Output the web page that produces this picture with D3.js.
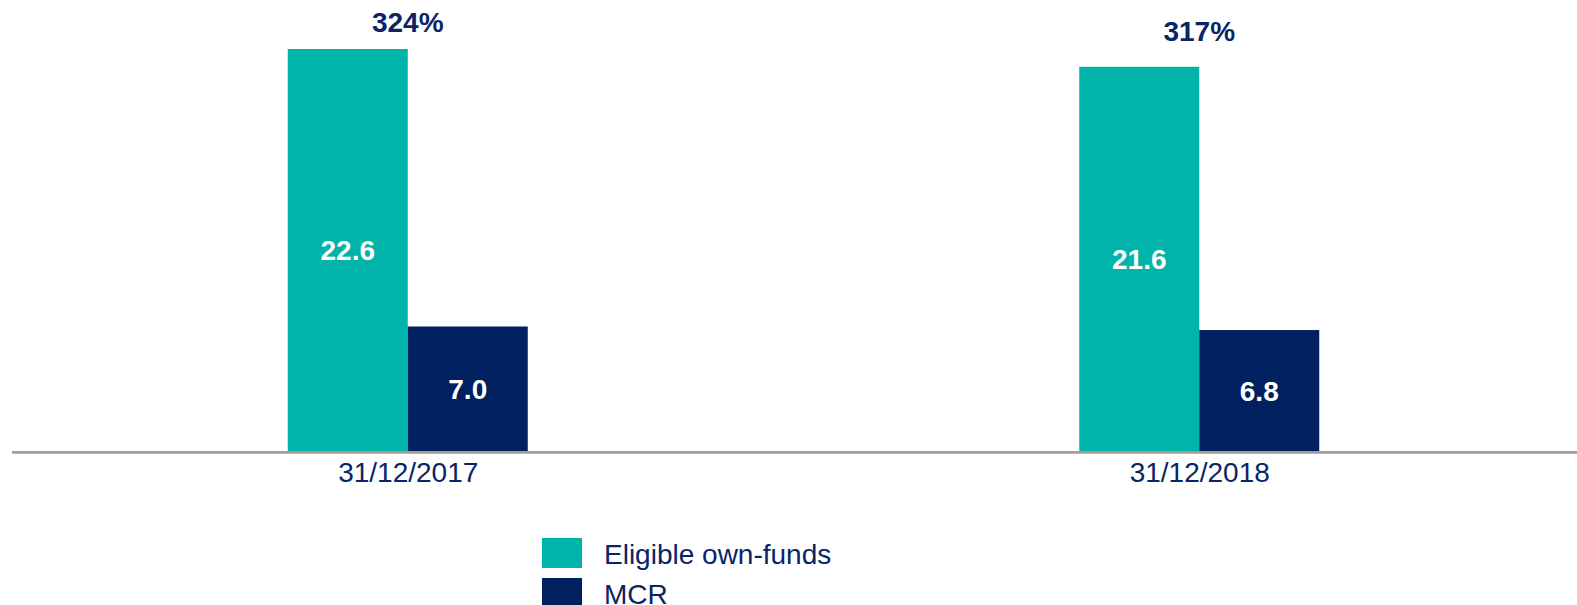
<!DOCTYPE html>
<html>
<head>
<meta charset="utf-8">
<script src="https://cdn.jsdelivr.net/npm/d3@7"></script>
<style>
  html, body { margin: 0; padding: 0; background: #ffffff; }
  svg { display: block; font-family: "Liberation Sans", Arial, Helvetica, sans-serif; }
</style>
</head>
<body>
<svg id="chart" width="1577" height="605"></svg>
<script>
// Solvency cover: eligible own-funds vs MCR (EUR bn) and coverage ratio
const categories = ["31/12/2017", "31/12/2018"];
const seriesNames = ["Eligible own-funds", "MCR"];
const ownFunds = [22.6, 21.6];
const mcr = [7.0, 6.8];
const coverageRatio = [324, 317];

const colors = { "Eligible own-funds": "#00B4AA", "MCR": "#002060" };
const textNavy = "#0A2466";

const W = 1577, H = 605;
const baseY = 451;
const svg = d3.select("#chart");

// Group positions along the category axis
const x = d3.scalePoint().domain(categories).range([12, 1595]).padding(0.5);
// Side-by-side bars within each group
const xSub = d3.scaleBand().domain(seriesNames).range([-120, 120]).padding(0);
// Value scale (primary)
const y = d3.scaleLinear().domain([0, d3.max(ownFunds)]).range([baseY, 49]);
// Coverage ratio scale (secondary)
const yRatio = d3.scaleLinear().domain([0, 380]).range([baseY, 0]);

const rows = categories.map((c, i) => ({
  category: c,
  ratio: coverageRatio[i],
  values: [
    { series: "Eligible own-funds", value: ownFunds[i] },
    { series: "MCR", value: mcr[i] }
  ]
}));

const groups = svg.selectAll("g.group")
  .data(rows)
  .join("g")
  .attr("class", "group")
  .attr("transform", d => `translate(${x(d.category)},0)`);

groups.selectAll("rect")
  .data(d => d.values)
  .join("rect")
  .attr("x", d => xSub(d.series))
  .attr("width", xSub.bandwidth())
  .attr("y", d => y(d.value))
  .attr("height", d => y(0) - y(d.value))
  .attr("fill", d => colors[d.series]);

groups.selectAll("text.val")
  .data(d => d.values)
  .join("text")
  .attr("class", "val")
  .attr("x", d => xSub(d.series) + xSub.bandwidth() / 2)
  .attr("y", d => (y(d.value) + y(0)) / 2)
  .attr("dy", "0.36em")
  .attr("text-anchor", "middle")
  .attr("font-size", 28)
  .attr("font-weight", "bold")
  .attr("fill", "#ffffff")
  .text(d => d3.format(".1f")(d.value));

// Coverage ratio labels above each group
groups.append("text")
  .attr("x", 0)
  .attr("y", d => yRatio(d.ratio) - 34)
  .attr("text-anchor", "middle")
  .attr("font-size", 28)
  .attr("font-weight", "bold")
  .attr("fill", textNavy)
  .text(d => d.ratio + "%");

// Category axis
const axis = svg.append("g")
  .attr("transform", `translate(0,${baseY})`)
  .call(d3.axisBottom(x).tickSize(0).tickPadding(12));
axis.select(".domain").remove();
axis.append("line")
  .attr("x1", 12).attr("x2", W)
  .attr("y1", 1.4).attr("y2", 1.4)
  .attr("stroke", "#A59D95")
  .attr("stroke-width", 2.8);
axis.selectAll(".tick text")
  .attr("font-family", "\"Liberation Sans\", Arial, sans-serif")
  .attr("font-size", 28)
  .attr("fill", textNavy)
  .attr("dy", "0.71em")
  .attr("y", 11.5);

// Legend
const legend = svg.append("g").attr("transform", "translate(542,538)");
const items = legend.selectAll("g")
  .data(seriesNames)
  .join("g")
  .attr("transform", (d, i) => `translate(0,${i * 40})`);
items.append("rect")
  .attr("width", 40).attr("height", 30)
  .attr("fill", d => colors[d]);
items.append("text")
  .attr("x", 62).attr("y", 25.5)
  .attr("font-size", 28)
  .attr("fill", textNavy)
  .text(d => d);
</script>
</body>
</html>
